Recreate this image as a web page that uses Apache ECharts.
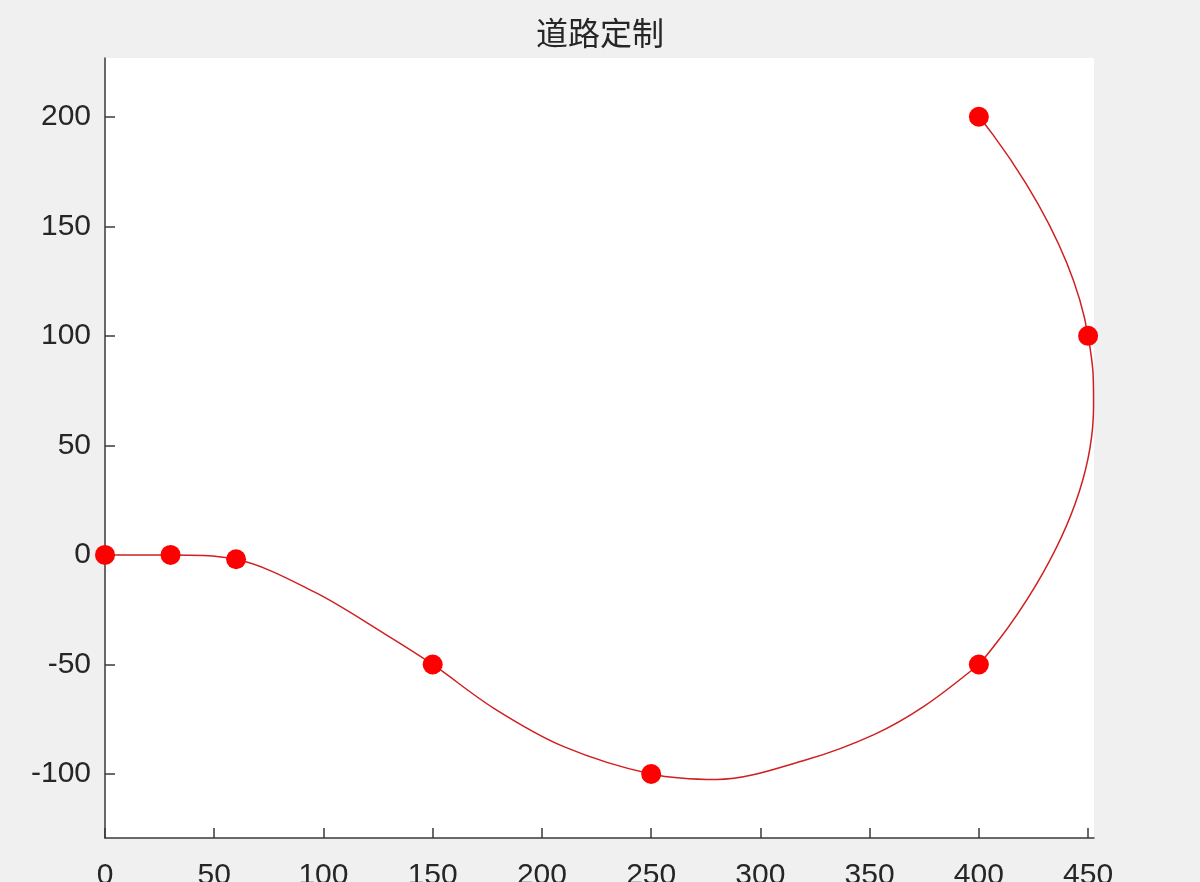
<!DOCTYPE html>
<html>
<head>
<meta charset="utf-8">
<script src="https://cdn.jsdelivr.net/npm/echarts@6/dist/echarts.min.js"></script>
<style>html,body{margin:0;padding:0;background:#f0f0f0;}#c{width:1200px;height:882px;}</style>
</head>
<body>
<div id="c"></div>
<script>
// Road control points (markers)
var pointX = [0, 30, 60, 150, 250, 400, 450, 400];
var pointY = [0, 0, -2, -50, -100, -50, 100, 200];
// Road curve, lower stretch: samples (path order)
var lowerX = [0, 30, 60, 96, 128, 150, 178, 210, 250, 280, 321, 352, 375, 400];
var lowerY = [0, 0, -2, -17, -36, -50, -70, -87.5, -100, -102.5, -93.5, -82, -69, -50];
// Road curve, turn on the right: control points plus the rightmost point
var turnX = [400, 452.5, 450, 400];
var turnY = [-50, 68, 100, 200];
var xTicks = [0, 50, 100, 150, 200, 250, 300, 350, 400, 450];
var yTicks = [-100, -50, 0, 50, 100, 150, 200];
var titleText = '道路定制';

function pairs(xs, ys) { return xs.map(function (x, i) { return [x, ys[i]]; }); }

var chart = echarts.init(document.getElementById('c'), null, {renderer: 'canvas'});
var axisColor = '#3a3a3a';
var textColor = '#262626';
var lineColor = '#d01f1f';
var fontFam = '"Liberation Sans", Arial, sans-serif';
chart.setOption({
  backgroundColor: '#f0f0f0',
  animation: false,
  title: {
    text: titleText, left: 'center', top: 12,
    textStyle: {fontFamily: '"Noto Sans CJK SC", sans-serif', fontSize: 32, fontWeight: 'normal', color: textColor}
  },
  grid: {left: 105, top: 58, right: 106, bottom: 44, show: true, backgroundColor: '#ffffff', borderWidth: 0,
         containLabel: false, outerBoundsMode: 'none'},
  xAxis: {
    type: 'value', min: 0, max: 452.7,
    splitLine: {show: false},
    axisLine: {show: true, onZero: false, lineStyle: {color: axisColor, width: 1.5}},
    axisTick: {show: true, inside: true, length: 10, customValues: xTicks, lineStyle: {color: axisColor, width: 1.5}},
    axisLabel: {customValues: xTicks, margin: 23, fontSize: 30, color: textColor, fontFamily: fontFam}
  },
  yAxis: {
    type: 'value', min: -129.2, max: 226.8,
    splitLine: {show: false},
    axisLine: {show: true, onZero: false, lineStyle: {color: axisColor, width: 1.5}},
    axisTick: {show: true, inside: true, length: 10, customValues: yTicks, lineStyle: {color: axisColor, width: 1.5}},
    axisLabel: {customValues: yTicks, margin: 14, fontSize: 30, color: textColor, fontFamily: fontFam}
  },
  series: [
    {
      type: 'line', smooth: 0.33, showSymbol: false, clip: false,
      data: pairs(lowerX, lowerY),
      lineStyle: {color: lineColor, width: 1.5}, z: 2
    },
    {
      type: 'line', smooth: 0.5, showSymbol: false, clip: false,
      data: pairs(turnX, turnY),
      lineStyle: {color: lineColor, width: 1.5}, z: 2
    },
    {
      type: 'scatter', symbol: 'circle', symbolSize: 20, clip: false,
      data: pairs(pointX, pointY),
      itemStyle: {color: '#ff0000', opacity: 1}, z: 3
    }
  ]
});
</script>
</body>
</html>
